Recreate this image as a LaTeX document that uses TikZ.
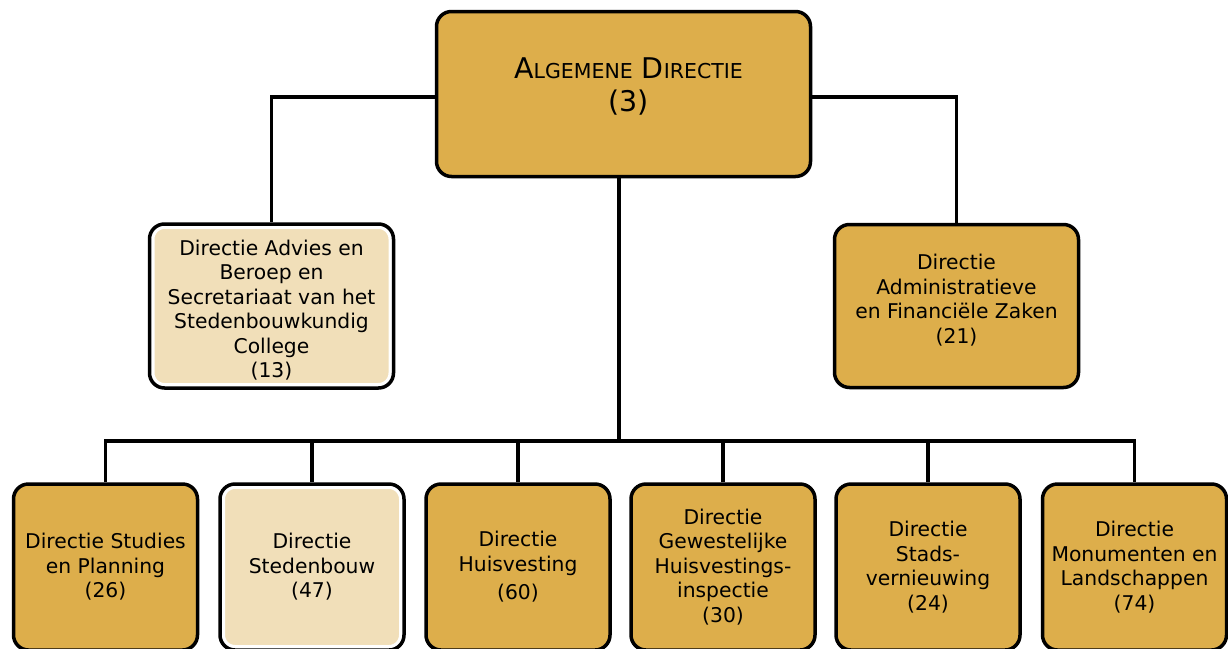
\documentclass[tikz,border=0pt]{standalone}
\usepackage{fontspec}
\setmainfont{DejaVu Sans}
\definecolor{gold}{RGB}{221,174,75}
\definecolor{pale}{RGB}{241,223,185}
\newcommand{\smc}[1]{{\fontsize{20.5}{33}\selectfont #1}}
\begin{document}
\begin{tikzpicture}[x=1pt,y=-1pt,
  darkbox/.style={draw=black, line width=3.5pt, fill=gold, rounded corners=15pt,
    align=center, inner sep=0pt, font=\fontsize{20.3}{24.5}\selectfont},
  lightbox/.style={draw=white, line width=10pt, fill=pale, rounded corners=15pt,
    postaction={draw=black, line width=3.5pt}, outer sep=1.75pt,
    align=center, inner sep=0pt, font=\fontsize{20.3}{24.5}\selectfont},
  bottombox/.style={minimum width=184pt, minimum height=166pt},
  boxtext/.style={font=\fontsize{20.3}{24.5}\selectfont, align=center},
  link/.style={line width=3.5pt, draw=black}]
\useasboundingbox (0,0) rectangle (1228,648);
\clip (0,0) rectangle (1228,648);

\node[darkbox, minimum width=374pt, minimum height=165pt,
  label={[font=\fontsize{28.5}{33}\selectfont, align=center, yshift=8pt, xshift=5pt]center:A\smc{LGEMENE} D\smc{IRECTIE}\\(3)}]
  (top) at (623.5,94) {};

\node[lightbox, minimum width=244pt, minimum height=164pt,
  label={[boxtext, yshift=-4pt]center:Directie Advies en\\Beroep en\\Secretariaat van het\\Stedenbouwkundig\\College\\(13)}]
  (advies) at (271.5,306) {};
\node[darkbox, minimum width=244pt, minimum height=163pt,
  label={[boxtext, yshift=6pt]center:Directie\\Administratieve\\en Financiële Zaken\\(21)}]
  (admin) at (956.5,306) {};

\node[darkbox, bottombox] (b1) at (105.5,567) {Directie Studies\\en Planning\\(26)};
\node[lightbox, bottombox] (b2) at (312,567) {Directie\\Stedenbouw\\(47)};
\node[darkbox, bottombox] (b3) at (518,567) {Directie\\Huisvesting\\[4pt](60)};
\node[darkbox, bottombox] (b4) at (723,567) {Directie\\Gewestelijke\\Huisvestings-\\inspectie\\(30)};
\node[darkbox, bottombox] (b5) at (928,567) {Directie\\Stads-\\vernieuwing\\(24)};
\node[darkbox, bottombox] (b6) at (1134.5,567) {Directie\\Monumenten en\\Landschappen\\(74)};

\coordinate (busc) at (619,441);

\draw[link] ([yshift=-3pt]top.west) -| (advies.north);
\draw[link] ([yshift=-3pt]top.east) -| (admin.north);
\draw[link] (top.south -| busc) -- (busc);
\draw[link] (b1.north) -- (b1.north |- busc) -- (b6.north |- busc) -- (b6.north);
\foreach \n in {b2,b3,b4,b5} \draw[link] (\n.north) -- (\n.north |- busc);
\end{tikzpicture}
\end{document}
